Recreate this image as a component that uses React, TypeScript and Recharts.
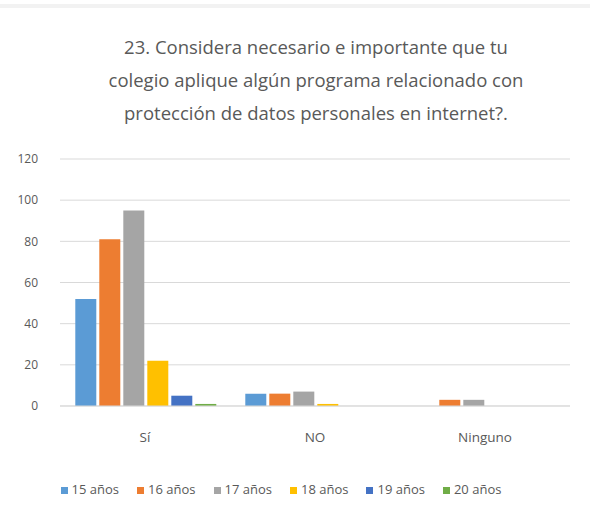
import React from "react";
import { BarChart, Bar, XAxis, YAxis, CartesianGrid, Legend } from "recharts";

const categories = ["Sí", "NO", "Ninguno"];
const seriesNames = ["15 años", "16 años", "17 años", "18 años", "19 años", "20 años"];
const seriesColors = ["#5B9BD5", "#ED7D31", "#A5A5A5", "#FFC000", "#4472C4", "#70AD47"];
const v15 = [52, 6, 0];
const v16 = [81, 6, 3];
const v17 = [95, 7, 3];
const v18 = [22, 1, 0];
const v19 = [5, 0, 0];
const v20 = [1, 0, 0];
const yTicks = [0, 20, 40, 60, 80, 100, 120];
const titleLines = [
  "23. Considera necesario e importante que tu",
  "colegio aplique algún programa relacionado con",
  "protección de datos personales en internet?.",
];

const seriesValues = [v15, v16, v17, v18, v19, v20];
const data = categories.map((c, i) => {
  const row: Record<string, string | number> = { name: c };
  seriesNames.forEach((s, j) => {
    row[s] = seriesValues[j][i];
  });
  return row;
});

const FONT = "'Open Sans', 'Liberation Sans', sans-serif";

export default function App() {
  return (
    <div style={{ position: "absolute", left: 0, top: 0, width: 590, height: 510, background: "#fff", fontFamily: FONT }}>
      <div style={{ position: "absolute", left: 0, top: 4, width: 590, height: 4, background: "#f2f2f2" }} />
      <div
        style={{
          position: "absolute",
          left: 16,
          top: 30,
          width: 600,
          textAlign: "center",
          color: "#595959",
          fontSize: 18.5,
          lineHeight: "33px",
          fontFamily: FONT,
        }}
      >
        {titleLines.map((l, i) => (
          <div key={i}>{l}</div>
        ))}
      </div>
      <BarChart
        width={590}
        height={510}
        data={data}
        margin={{ top: 159, right: 20, bottom: 26, left: 10 }}
        barCategoryGap="9%"
        barGap={3}
      >
        <CartesianGrid vertical={false} stroke="#d9d9d9" />
        <XAxis
          dataKey="name"
          axisLine={{ stroke: "#d9d9d9" }}
          tickLine={false}
          tick={{ fill: "#595959", fontSize: 13.5, fontFamily: FONT }}
          tickMargin={20}
          height={60}
        />
        <YAxis
          domain={[0, 120]}
          ticks={yTicks}
          axisLine={false}
          tickLine={false}
          width={50}
          tick={{ fill: "#595959", fontSize: 12, fontFamily: FONT }}
          tickMargin={16}
        />
        <Legend
          verticalAlign="bottom"
          align="center"
          iconType="square"
          iconSize={7}
          wrapperStyle={{ fontSize: 13, fontFamily: FONT, bottom: 12 }}
          formatter={(value: string) => (
            <span style={{ color: "#595959", paddingRight: 8 }}>{value}</span>
          )}
        />
        {seriesNames.map((s, j) => (
          <Bar key={s} dataKey={s} fill={seriesColors[j]} isAnimationActive={false} />
        ))}
      </BarChart>
    </div>
  );
}
